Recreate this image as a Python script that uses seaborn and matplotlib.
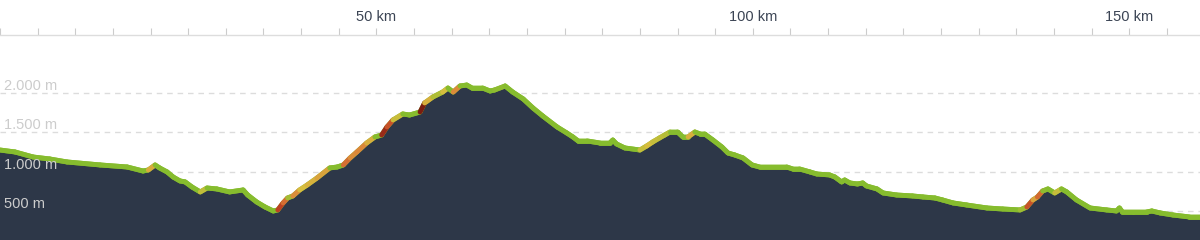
import numpy as np
import pandas as pd
import matplotlib
matplotlib.use("Agg")
import matplotlib.pyplot as plt
import seaborn as sns
from matplotlib.collections import LineCollection
from matplotlib.colors import LinearSegmentedColormap, Normalize

distance_km = [
    0.0, 2.0, 4.4, 6.6, 8.9, 13.3, 16.9, 19.0, 19.7, 20.6,
    21.2, 22.2, 23.0, 23.9, 24.6, 25.5, 26.6, 27.5, 28.8, 30.5,
    32.3, 32.9, 34.1, 35.2, 36.3, 36.9, 37.6, 38.2, 38.9, 39.8,
    40.8, 42.1, 43.8, 44.8, 45.6, 46.5, 47.4, 48.7, 49.8, 50.7,
    51.4, 52.2, 53.5, 54.4, 55.8, 56.4, 57.5, 58.8, 59.5, 60.2,
    61.1, 62.0, 62.7, 64.1, 65.1, 65.7, 67.1, 68.1, 69.5, 70.8,
    72.1, 74.0, 75.3, 76.1, 76.8, 78.0, 79.7, 81.0, 81.4, 81.9,
    83.0, 85.0, 85.9, 86.7, 87.6, 88.3, 89.0, 90.0, 90.7, 91.4,
    92.3, 93.0, 93.6, 94.7, 95.9, 96.7, 97.6, 98.7, 99.9, 100.9,
    104.5, 105.3, 106.2, 107.6, 108.5, 110.2, 110.9, 111.8, 112.2, 112.9,
    113.9, 114.6, 115.1, 116.5, 117.3, 119.1, 121.2, 122.6, 124.2, 125.2,
    126.6, 128.4, 131.1, 133.2, 135.5, 136.4, 137.2, 137.8, 138.5, 139.2,
    140.1, 141.0, 141.7, 143.0, 144.8, 147.0, 148.3, 148.7, 149.1, 150.5,
    152.3, 153.0, 154.1, 155.8, 158.0, 159.4,
]
elevation_m = [
    1275, 1250, 1186, 1161, 1123, 1085, 1059, 1008, 1021, 1085,
    1047, 996, 932, 882, 869, 805, 742, 792, 780, 742,
    767, 703, 614, 551, 500, 513, 602, 665, 691, 767,
    830, 919, 1047, 1059, 1085, 1174, 1250, 1364, 1441, 1466,
    1568, 1657, 1733, 1720, 1758, 1873, 1949, 2012, 2063, 2012,
    2089, 2101, 2063, 2063, 2025, 2038, 2089, 2012, 1924, 1809,
    1707, 1568, 1491, 1441, 1390, 1390, 1364, 1364, 1402, 1352,
    1301, 1275, 1326, 1377, 1428, 1466, 1504, 1504, 1441, 1441,
    1504, 1479, 1479, 1402, 1313, 1237, 1212, 1174, 1085, 1059,
    1059, 1034, 1034, 996, 970, 958, 932, 869, 894, 856,
    843, 856, 818, 780, 729, 703, 691, 678, 665, 640,
    602, 576, 538, 525, 513, 551, 640, 678, 754, 780,
    729, 780, 742, 640, 538, 513, 500, 538, 487, 487,
    487, 500, 475, 449, 424, 424,
]
km_ticks = [50, 100, 150]
km_tick_labels = ["50 km", "100 km", "150 km"]
elev_ticks = [500, 1000, 1500, 2000]
elev_tick_labels = ["500 m", "1.000 m", "1.500 m", "2.000 m"]

df = pd.DataFrame({"km": distance_km, "elev": elevation_m})

# ---- style ----
sns.set_theme(style="white")
plt.rcParams["font.family"] = ["Liberation Sans", "DejaVu Sans"]

W, H = 1200, 240
fig = plt.figure(figsize=(W / 100, H / 100), dpi=100)
ax = fig.add_axes([0, 0, 1, (H - 35) / H])
ax.set_xlim(0, 159.4)
ax.set_ylim(131, 2737)

FILL = "#2d3748"
GREEN = "#86bc2e"

# grid lines (behind the fill)
for v in elev_ticks:
    ax.axhline(v, color="#dcdcdc", lw=1, dashes=(4, 3.5), zorder=0.5)

ax.fill_between(df["km"], df["elev"], 0, color=FILL, lw=0, zorder=1)

sns.lineplot(data=df, x="km", y="elev", ax=ax, color=GREEN, lw=3.5,
             zorder=2, sort=False, solid_capstyle="round", solid_joinstyle="round")

# slope coloured overlay: grade over a ~0.8 km window around each segment
d = np.asarray(distance_km, dtype=float)
e = np.asarray(elevation_m, dtype=float)
mid = (d[:-1] + d[1:]) / 2
half = 0.4
grade = (np.interp(mid + half, d, e) - np.interp(mid - half, d, e)) / (2 * half * 1000) * 100
cmap = LinearSegmentedColormap.from_list(
    "grade",
    [(0.0, GREEN), (0.22, GREEN), (0.42, "#d6bd3e"), (0.62, "#dc7b38"),
     (0.82, "#b8391f"), (1.0, "#7a1c10")],
)
norm = Normalize(0, 15)
pts = np.column_stack([distance_km, elevation_m])
segs = np.stack([pts[:-1], pts[1:]], axis=1)
lc = LineCollection(segs, colors=cmap(norm(np.clip(grade, 0, 15))), linewidths=3.5,
                    capstyle="round", joinstyle="round", zorder=2.5)
ax.add_collection(lc)

# y labels inside the plot
for v, lab in zip(elev_ticks, elev_tick_labels):
    ax.annotate(lab, xy=(0, v), xycoords=("axes fraction", "data"),
                xytext=(4, 3), textcoords="offset pixels", ha="left", va="baseline",
                fontsize=10.5, color="#cccccc", zorder=4)

# top axis
ax.xaxis.tick_top()
ax.set_xticks(km_ticks)
ax.set_xticklabels(km_tick_labels)
ax.set_xticks(np.arange(0, 160, 5), minor=True)
ax.tick_params(axis="x", which="both", direction="out", length=5, width=0.8,
               color="#cccccc", top=True, bottom=False)
ax.tick_params(axis="x", which="major", labelsize=10.5, labelcolor="#3b4454", pad=3)
ax.set_yticks([])
ax.set_xlabel("")
ax.set_ylabel("")
for s in ["left", "right", "bottom"]:
    ax.spines[s].set_visible(False)
ax.spines["top"].set_color("#dddddd")
ax.spines["top"].set_linewidth(1)
ax.set_facecolor("white")

fig.savefig("out.png", dpi=100)
